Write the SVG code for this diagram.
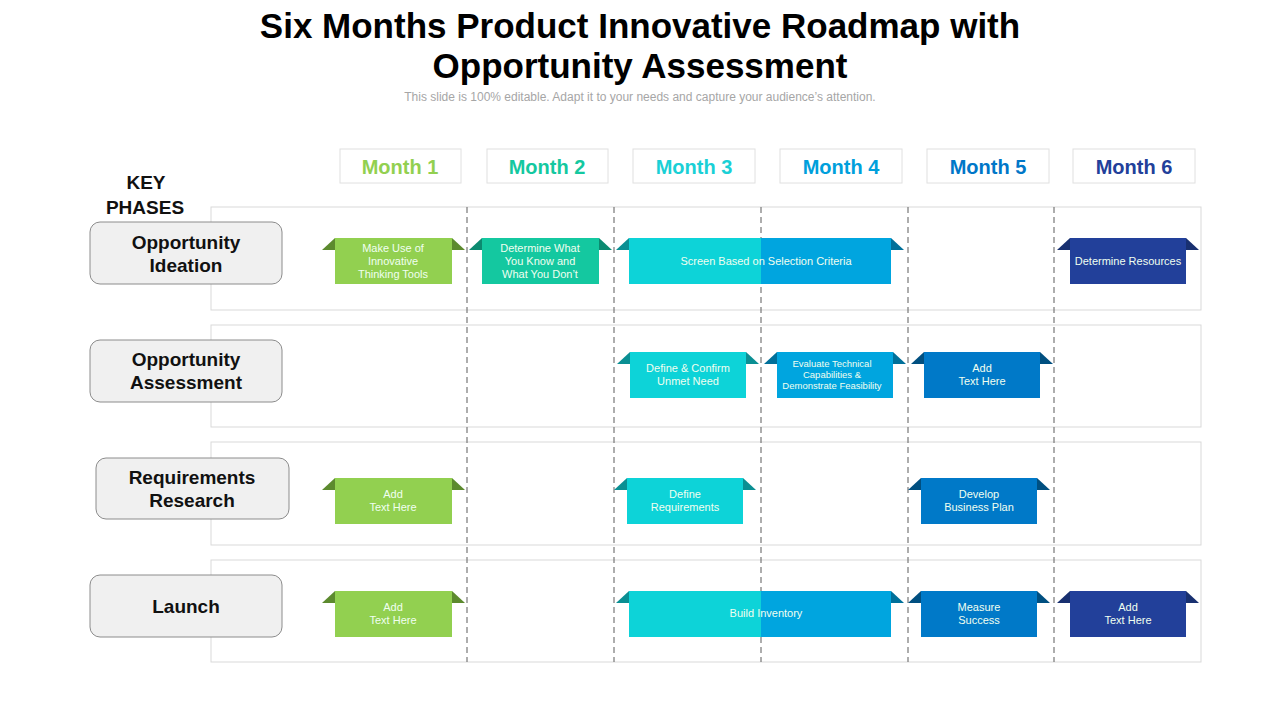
<svg xmlns="http://www.w3.org/2000/svg" width="1280" height="720" viewBox="0 0 1280 720">
<style>
.t{font-family:"Liberation Sans",Arial,sans-serif}
.title{font-size:35px;font-weight:bold;fill:#000;text-anchor:middle}
.sub{font-size:12px;fill:#a6a6a6;text-anchor:middle}
.mh{fill:#fff;stroke:#e0e0e0}
.mt{font-size:20px;font-weight:bold;text-anchor:middle}
.row{fill:#fff;stroke:#d9d9d9}
.ph{fill:#f0f0f0;stroke:#8c8c8c;stroke-width:1}
.pt{font-size:19px;font-weight:bold;text-anchor:middle;fill:#111}
.tk{font-size:11px;fill:#f0fff0;text-anchor:middle}
.tk2{font-size:9.5px;fill:#f0fff0;text-anchor:middle}
.dl{stroke:#777;stroke-dasharray:6,4;stroke-width:1.2}
</style>
<text class="t title" x="640" y="38">Six Months Product Innovative Roadmap with</text>
<text class="t title" x="640" y="78">Opportunity Assessment</text>
<text class="t sub" x="640" y="101">This slide is 100% editable. Adapt it to your needs and capture your audience’s attention.</text>
<g id="months">
<rect class="mh" x="340" y="149" width="121" height="34"/><text class="t mt" x="400" y="174" fill="#92D050">Month 1</text>
<rect class="mh" x="487" y="149" width="121" height="34"/><text class="t mt" x="547" y="174" fill="#14C8A0">Month 2</text>
<rect class="mh" x="633" y="149" width="122" height="34"/><text class="t mt" x="694" y="174" fill="#1AD0D6">Month 3</text>
<rect class="mh" x="780" y="149" width="122" height="34"/><text class="t mt" x="841" y="174" fill="#00A0DC">Month 4</text>
<rect class="mh" x="927" y="149" width="122" height="34"/><text class="t mt" x="988" y="174" fill="#0077C8">Month 5</text>
<rect class="mh" x="1073" y="149" width="122" height="34"/><text class="t mt" x="1134" y="174" fill="#22409A">Month 6</text>
</g>
<text class="t pt" x="146" y="189" style="font-size:19px">KEY</text>
<text class="t pt" x="145" y="214" style="font-size:19px">PHASES</text>
<g id="rows">
<rect class="row" x="211" y="207" width="990" height="103"/>
<rect class="row" x="211" y="325" width="990" height="102"/>
<rect class="row" x="211" y="442" width="990" height="103"/>
<rect class="row" x="211" y="560" width="990" height="102"/>
</g>
<g id="connectors">
<line class="dl" x1="467" y1="207" x2="467" y2="662"/>
<line class="dl" x1="614" y1="207" x2="614" y2="662"/>
<line class="dl" x1="761" y1="207" x2="761" y2="662"/>
<line class="dl" x1="908" y1="207" x2="908" y2="662"/>
<line class="dl" x1="1054" y1="207" x2="1054" y2="662"/>
</g>
<g id="phase1"><rect class="ph" x="90" y="222" width="192" height="62" rx="10"/><text class="t pt" x="186" y="249">Opportunity</text><text class="t pt" x="186" y="272">Ideation</text></g>
<g id="phase2"><rect class="ph" x="90" y="340" width="192" height="62" rx="10"/><text class="t pt" x="186" y="366">Opportunity</text><text class="t pt" x="186" y="389">Assessment</text></g>
<g id="phase3"><rect class="ph" x="96" y="458" width="193" height="61" rx="10"/><text class="t pt" x="192" y="484">Requirements</text><text class="t pt" x="192" y="507">Research</text></g>
<g id="phase4"><rect class="ph" x="90" y="575" width="192" height="62" rx="10"/><text class="t pt" x="186" y="613">Launch</text></g>

<!-- Row 1 -->
<g id="r1a"><polygon points="322,250 335,238 335,250" fill="#5C8A2E"/><polygon points="452,238 465,250 452,250" fill="#5C8A2E"/><rect x="335" y="238" width="117" height="46" fill="#92D050"/>
<text class="t tk" x="393" y="252">Make Use of</text><text class="t tk" x="393" y="265">Innovative</text><text class="t tk" x="393" y="278">Thinking Tools</text></g>
<g id="r1b"><polygon points="469,250 482,238 482,250" fill="#0C8A70"/><polygon points="599,238 612,250 599,250" fill="#0C8A70"/><rect x="482" y="238" width="117" height="46" fill="#14C8A0"/>
<text class="t tk" x="540" y="252">Determine What</text><text class="t tk" x="540" y="265">You Know and</text><text class="t tk" x="540" y="278">What You Don’t</text></g>
<g id="r1c"><polygon points="616,250 629,238 629,250" fill="#0A8F93"/><polygon points="891,238 904,250 891,250" fill="#00709A"/><rect x="629" y="238" width="132" height="46" fill="#0DD3D8"/><rect x="761" y="238" width="130" height="46" fill="#00A5DF"/>
<text class="t tk" x="766" y="265">Screen Based on Selection Criteria</text></g>
<g id="r1d"><polygon points="1057,250 1070,238 1070,250" fill="#183070"/><polygon points="1186,238 1199,250 1186,250" fill="#183070"/><rect x="1070" y="238" width="116" height="46" fill="#22409A"/>
<text class="t tk" x="1128" y="265">Determine Resources</text></g>

<!-- Row 2 -->
<g id="r2a"><polygon points="617,364 630,352 630,364" fill="#0A8F93"/><polygon points="746,352 759,364 746,364" fill="#0A8F93"/><rect x="630" y="352" width="116" height="46" fill="#0DD3D8"/>
<text class="t tk" x="688" y="372">Define &amp; Confirm</text><text class="t tk" x="688" y="385">Unmet Need</text></g>
<g id="r2b"><polygon points="764,364 777,352 777,364" fill="#00709A"/><polygon points="893,352 906,364 893,364" fill="#00709A"/><rect x="777" y="352" width="116" height="46" fill="#00A5DF"/>
<text class="t tk2" x="832" y="367">Evaluate Technical</text><text class="t tk2" x="832" y="378">Capabilities &amp;</text><text class="t tk2" x="832" y="389">Demonstrate Feasibility</text></g>
<g id="r2c"><polygon points="911,364 924,352 924,364" fill="#004F80"/><polygon points="1040,352 1053,364 1040,364" fill="#004F80"/><rect x="924" y="352" width="116" height="46" fill="#0079C8"/>
<text class="t tk" x="982" y="372">Add</text><text class="t tk" x="982" y="385">Text Here</text></g>

<!-- Row 3 -->
<g id="r3a"><polygon points="322,490 335,478 335,490" fill="#5C8A2E"/><polygon points="452,478 465,490 452,490" fill="#5C8A2E"/><rect x="335" y="478" width="117" height="46" fill="#92D050"/>
<text class="t tk" x="393" y="498">Add</text><text class="t tk" x="393" y="511">Text Here</text></g>
<g id="r3b"><polygon points="614,490 627,478 627,490" fill="#0A8F93"/><polygon points="743,478 756,490 743,490" fill="#0A8F93"/><rect x="627" y="478" width="116" height="46" fill="#0DD3D8"/>
<text class="t tk" x="685" y="498">Define</text><text class="t tk" x="685" y="511">Requirements</text></g>
<g id="r3c"><polygon points="908,490 921,478 921,490" fill="#004F80"/><polygon points="1037,478 1050,490 1037,490" fill="#004F80"/><rect x="921" y="478" width="116" height="46" fill="#0079C8"/>
<text class="t tk" x="979" y="498">Develop</text><text class="t tk" x="979" y="511">Business Plan</text></g>

<!-- Row 4 -->
<g id="r4a"><polygon points="322,603 335,591 335,603" fill="#5C8A2E"/><polygon points="452,591 465,603 452,603" fill="#5C8A2E"/><rect x="335" y="591" width="117" height="46" fill="#92D050"/>
<text class="t tk" x="393" y="611">Add</text><text class="t tk" x="393" y="624">Text Here</text></g>
<g id="r4b"><polygon points="616,603 629,591 629,603" fill="#0A8F93"/><polygon points="891,591 904,603 891,603" fill="#00709A"/><rect x="629" y="591" width="132" height="46" fill="#0DD3D8"/><rect x="761" y="591" width="130" height="46" fill="#00A5DF"/>
<text class="t tk" x="766" y="617">Build Inventory</text></g>
<g id="r4c"><polygon points="908,603 921,591 921,603" fill="#004F80"/><polygon points="1037,591 1050,603 1037,603" fill="#004F80"/><rect x="921" y="591" width="116" height="46" fill="#0079C8"/>
<text class="t tk" x="979" y="611">Measure</text><text class="t tk" x="979" y="624">Success</text></g>
<g id="r4d"><polygon points="1057,603 1070,591 1070,603" fill="#183070"/><polygon points="1186,591 1199,603 1186,603" fill="#183070"/><rect x="1070" y="591" width="116" height="46" fill="#22409A"/>
<text class="t tk" x="1128" y="611">Add</text><text class="t tk" x="1128" y="624">Text Here</text></g>
</svg>
